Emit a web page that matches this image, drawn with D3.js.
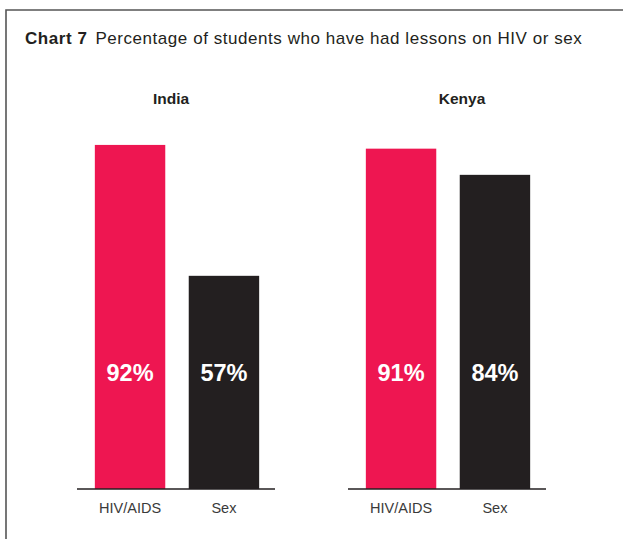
<!DOCTYPE html>
<html>
<head>
<meta charset="utf-8">
<script src="https://cdn.jsdelivr.net/npm/d3@7"></script>
<style>
  body { margin: 0; background: #fff; }
  svg text { font-family: "Liberation Sans", Arial, Helvetica, sans-serif; }
</style>
</head>
<body>
<script>
const w = 623
const h = 539

// data
const countries = ["India", "Kenya"]
const categories = ["HIV/AIDS", "Sex"]
const india = [92, 57]
const kenya = [91, 84]
const series = [india, kenya]
const colors = ["#ee1651", "#231f20"]

let svg = d3.select("body").append("svg").attr("width", w).attr("height", h)

// box round the chart, open on the right and bottom
svg.append("path")
  .attr("d", "M6,545 L6,10 L630,10")
  .attr("fill", "none")
  .attr("stroke", "#555")
  .attr("stroke-width", 1.6)

// title
let title = svg.append("text").attr("x", 25).attr("y", 44).attr("font-size", 17).attr("letter-spacing", 0.55).attr("fill", "#231f20")
title.append("tspan").attr("font-weight", "bold").text("Chart 7")
title.append("tspan").attr("dx", 8).text("Percentage of students who have had lessons on HIV or sex")

let y = d3.scaleLinear().domain([0, 100]).range([489, 115])

let groupX = [77, 348]
let titleX = [171, 462]

countries.forEach((c, gi) => {
  let x = d3.scaleBand().domain(categories).range([0, 200]).paddingInner(0.25).paddingOuter(0.19)
  let g = svg.append("g").attr("transform", "translate(" + groupX[gi] + ",0)")

  svg.append("text")
    .attr("x", titleX[gi])
    .attr("y", 104)
    .attr("text-anchor", "middle")
    .attr("font-size", 15.5)
    .attr("font-weight", "bold")
    .attr("fill", "#231f20")
    .text(c)

  g.selectAll("rect")
    .data(series[gi])
    .enter()
    .append("rect")
    .attr("x", (d, i) => x(categories[i]))
    .attr("width", x.bandwidth())
    .attr("y", d => y(d))
    .attr("height", d => y(0) - y(d))
    .attr("fill", (d, i) => colors[i])

  g.selectAll("text.val")
    .data(series[gi])
    .enter()
    .append("text")
    .attr("class", "val")
    .attr("x", (d, i) => x(categories[i]) + x.bandwidth() / 2)
    .attr("y", 381)
    .attr("text-anchor", "middle")
    .attr("font-size", 23.5)
    .attr("font-weight", "bold")
    .attr("fill", "#fff")
    .text(d => d + "%")

  // axis line and category labels
  let axis = g.append("g").attr("transform", "translate(0," + y(0) + ")")
    .call(d3.axisBottom(x).tickSize(0).tickPadding(14))
  axis.select(".domain").attr("stroke", "#231f20").attr("stroke-width", 1.3).attr("d", "M0,0H198")
  axis.selectAll("text")
    .attr("font-size", 14.5)
    .attr("fill", "#3a3a3a")
    .attr("font-family", "Liberation Sans, Arial, sans-serif")
})
</script>
</body>
</html>
